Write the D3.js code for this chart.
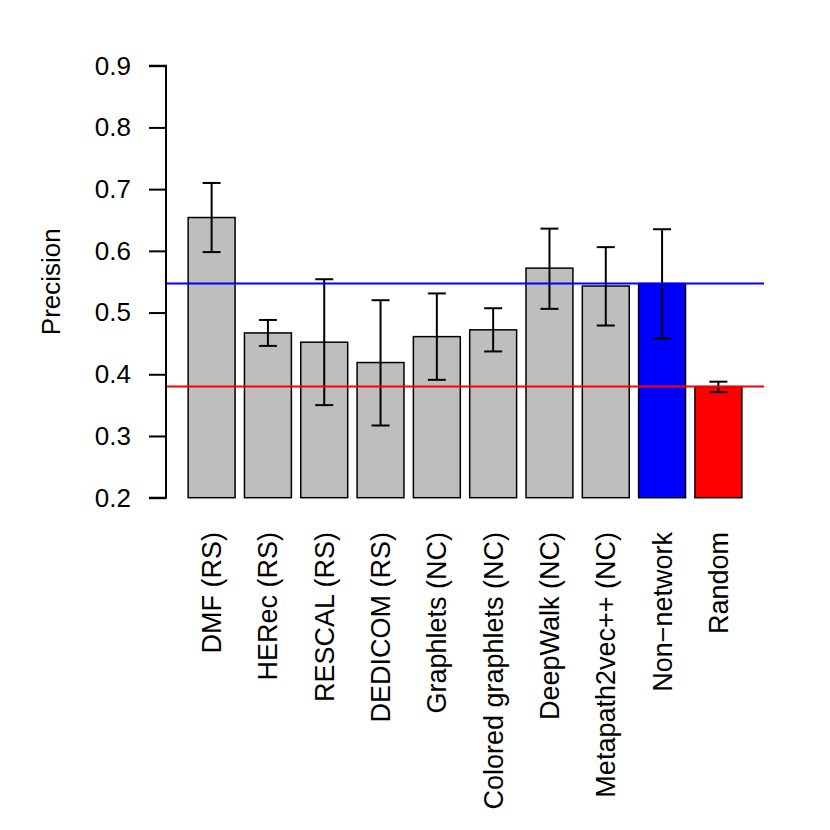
<!DOCTYPE html>
<html>
<head>
<meta charset="utf-8">
<script src="https://cdn.jsdelivr.net/npm/d3@7"></script>
<style>
  body { margin: 0; background: #fff; }
  svg { display: block; }
  text { font-family: "Liberation Sans", Arial, Helvetica, sans-serif; fill: #000; }
</style>
</head>
<body>
<svg id="chart" width="830" height="830"></svg>
<script>
// chart values
var methods = ["DMF (RS)", "HERec (RS)", "RESCAL (RS)", "DEDICOM (RS)", "Graphlets (NC)",
               "Colored graphlets (NC)", "DeepWalk (NC)", "Metapath2vec++ (NC)", "Non\u2212network", "Random"];
var precision = [0.654, 0.467, 0.452, 0.419, 0.461, 0.472, 0.572, 0.543, 0.547, 0.380];
var errLow    = [0.598, 0.446, 0.350, 0.317, 0.391, 0.437, 0.506, 0.479, 0.458, 0.371];
var errHigh   = [0.710, 0.488, 0.554, 0.520, 0.531, 0.507, 0.636, 0.606, 0.635, 0.388];
var barColors = ["#bebebe", "#bebebe", "#bebebe", "#bebebe", "#bebebe",
                 "#bebebe", "#bebebe", "#bebebe", "#0000ff", "#ff0000"];
var yTicks = [0.2, 0.3, 0.4, 0.5, 0.6, 0.7, 0.8, 0.9];
var refLines = [{ value: 0.547, color: "#0000ff" }, { value: 0.380, color: "#ff0000" }];

var svg = d3.select("#chart");
var fontSize = 26;

// barplot units: bar i spans [0.2 + 1.2 i, 1.2 + 1.2 i], 4% padding on each side
var n = methods.length;
var x = d3.scaleLinear()
    .domain([0.2 - 0.472, 1.2 * n + 0.472])
    .range([166, 764]);
var y = d3.scaleLinear()
    .domain([0.2, 0.9])
    .range([497.7, 65.7]);

var data = methods.map(function(m, i) {
    return { name: m, value: precision[i], lo: errLow[i], hi: errHigh[i], color: barColors[i],
             left: 0.2 + 1.2 * i, right: 1.2 + 1.2 * i, mid: 0.7 + 1.2 * i };
});

// bars
svg.append("g")
    .selectAll("rect")
    .data(data)
    .enter()
    .append("rect")
    .attr("x", function(d) { return x(d.left); })
    .attr("y", function(d) { return y(d.value); })
    .attr("width", function(d) { return x(d.right) - x(d.left); })
    .attr("height", function(d) { return y(0.2) - y(d.value); })
    .attr("fill", function(d) { return d.color; })
    .attr("stroke", "#000")
    .attr("stroke-width", 1.5);

// error bars
var cap = 9;
var eb = svg.append("g").attr("stroke", "#000").attr("stroke-width", 2);
data.forEach(function(d) {
    var cx = x(d.mid);
    eb.append("line").attr("x1", cx).attr("x2", cx).attr("y1", y(d.lo)).attr("y2", y(d.hi));
    eb.append("line").attr("x1", cx - cap).attr("x2", cx + cap).attr("y1", y(d.lo)).attr("y2", y(d.lo));
    eb.append("line").attr("x1", cx - cap).attr("x2", cx + cap).attr("y1", y(d.hi)).attr("y2", y(d.hi));
});

// reference lines across the plot region
svg.append("g")
    .selectAll("line")
    .data(refLines)
    .enter()
    .append("line")
    .attr("x1", x.range()[0])
    .attr("x2", x.range()[1])
    .attr("y1", function(d) { return y(d.value); })
    .attr("y2", function(d) { return y(d.value); })
    .attr("stroke", function(d) { return d.color; })
    .attr("stroke-width", 2);

// y axis
var yAxis = svg.append("g")
    .attr("transform", "translate(166,0)")
    .call(d3.axisLeft(y).tickValues(yTicks).tickFormat(d3.format(".1f")).tickSize(17).tickPadding(18));
yAxis.selectAll("path, line").attr("stroke", "#000").attr("stroke-width", 2);
yAxis.select(".domain").attr("d", "M-17," + y(0.2) + "H0V" + y(0.9) + "H-17");
yAxis.selectAll("text")
    .attr("font-size", fontSize)
    .attr("font-family", "Liberation Sans, Arial, sans-serif")
    .attr("fill", "#000");

// y label
svg.append("text")
    .attr("transform", "translate(60," + ((y(0.2) + y(0.9)) / 2) + ") rotate(-90)")
    .attr("text-anchor", "middle")
    .attr("font-size", fontSize)
    .text("Precision");

// category labels, rotated
svg.append("g")
    .selectAll("text")
    .data(data)
    .enter()
    .append("text")
    .attr("transform", function(d) { return "translate(" + x(d.mid) + ",532) rotate(-90)"; })
    .attr("text-anchor", "end")
    .attr("dy", "0.35em")
    .attr("font-size", 27)
    .text(function(d) { return d.name; });
</script>
</body>
</html>
